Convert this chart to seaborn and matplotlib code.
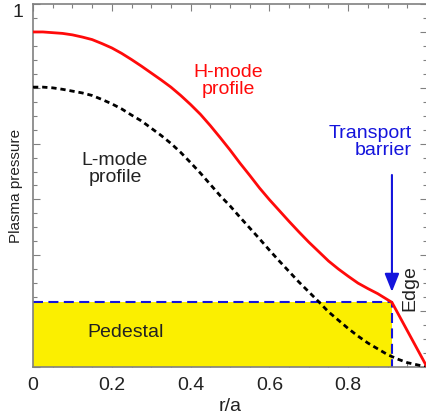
import numpy as np
import pandas as pd
import seaborn as sns
import matplotlib.pyplot as plt
from matplotlib.ticker import MultipleLocator

# profile values (r/a, normalised pressure)
r_h = [0.0, 0.025, 0.05, 0.075, 0.1, 0.125, 0.15, 0.175, 0.2, 0.225,
       0.25, 0.275, 0.3, 0.325, 0.35, 0.375, 0.4, 0.425, 0.45, 0.475,
       0.5, 0.525, 0.55, 0.575, 0.6, 0.625, 0.65, 0.675, 0.7, 0.725,
       0.75, 0.775, 0.8, 0.825, 0.85, 0.875, 0.911, 1.0]
p_h = [0.923, 0.923, 0.921, 0.919, 0.915, 0.909, 0.902, 0.891, 0.879, 0.864,
       0.847, 0.829, 0.810, 0.791, 0.771, 0.748, 0.723, 0.696, 0.665, 0.632,
       0.598, 0.562, 0.528, 0.493, 0.461, 0.431, 0.401, 0.372, 0.344, 0.318,
       0.292, 0.270, 0.250, 0.231, 0.216, 0.202, 0.178, 0.0]
r_l = [0.0, 0.025, 0.05, 0.075, 0.1, 0.125, 0.15, 0.175, 0.2, 0.225,
       0.25, 0.275, 0.3, 0.325, 0.35, 0.375, 0.4, 0.425, 0.45, 0.475,
       0.5, 0.525, 0.55, 0.575, 0.6, 0.625, 0.65, 0.675, 0.7, 0.725,
       0.75, 0.775, 0.8, 0.825, 0.85, 0.875, 0.9, 0.925, 0.95, 0.975, 1.0]
p_l = [0.771, 0.771, 0.769, 0.765, 0.760, 0.755, 0.748, 0.737, 0.725, 0.711,
       0.694, 0.678, 0.658, 0.638, 0.616, 0.591, 0.563, 0.534, 0.503, 0.472,
       0.444, 0.413, 0.383, 0.353, 0.322, 0.292, 0.263, 0.234, 0.207, 0.180,
       0.152, 0.129, 0.106, 0.085, 0.066, 0.050, 0.034, 0.022, 0.012, 0.006,
       0.0]

# pedestal / transport barrier
ped_top = 0.178
barrier_r = 0.911
arrow_start = 0.529
arrow_tip = 0.207

x_ticks = [0, 0.2, 0.4, 0.6, 0.8]
x_tick_labels = ["0", "0.2", "0.4", "0.6", "0.8"]

h_mode = pd.DataFrame({"r": r_h, "p": p_h})
l_mode = pd.DataFrame({"r": r_l, "p": p_l})

sns.set_style("ticks")
plt.rcParams["font.family"] = ["Liberation Sans", "DejaVu Sans"]

red = "#ff0a0a"
blue = "#1414dc"
yellow = "#fbef00"
grey = "#808080"

fig = plt.figure(figsize=(4.27, 4.20), dpi=100)
ax = fig.add_axes([33 / 427, 53 / 420, 394 / 427, 363 / 420])

# pedestal region
ax.fill_between([0, barrier_r], 0, ped_top, color=yellow, lw=0, zorder=1)
ax.plot([0, barrier_r, barrier_r], [ped_top, ped_top, 0], color=blue, lw=1.5,
        dashes=(4.8, 2.6), zorder=2)

# profiles
sns.lineplot(data=l_mode, x="r", y="p", ax=ax, color="black", lw=2.0,
             linestyle=(0, (1.9, 1.4)), zorder=3)
sns.lineplot(data=h_mode, x="r", y="p", ax=ax, color=red, lw=2.0, zorder=4)

# transport barrier arrow
ax.annotate("", xy=(barrier_r, arrow_tip), xytext=(barrier_r, arrow_start),
            arrowprops=dict(arrowstyle="-|>,head_length=0.55,head_width=0.22",
                            mutation_scale=20, color=blue, lw=1.5,
                            shrinkA=0, shrinkB=0), zorder=5)

# labels in the plot
ax.text(0.495, 0.788, "H-mode\nprofile", color=red, fontsize=14,
        ha="center", va="center", linespacing=1.05)
ax.text(0.208, 0.545, "L-mode\nprofile", color="#222222", fontsize=14,
        ha="center", va="center", linespacing=1.05)
ax.text(0.962, 0.62, "Transport\nbarrier", color=blue, fontsize=14,
        ha="right", va="center", linespacing=1.05, multialignment="right")
ax.text(0.236, 0.094, "Pedestal", color="#222222", fontsize=14,
        ha="center", va="center")
ax.text(0.957, 0.218, "Edge", color="#222222", fontsize=14, rotation=90,
        ha="center", va="center")

ax.set_xlim(0, 1)
ax.set_ylim(0, 1)

ax.set_xticks(x_ticks)
ax.set_xticklabels(x_tick_labels)
ax.xaxis.set_minor_locator(MultipleLocator(0.05))

y_major = list(np.arange(0, 0.99, 2 / 13)) + [1.0]
ax.set_yticks(y_major)
ax.set_yticklabels([""] * (len(y_major) - 1) + ["1"])
ax.get_yticklabels()[-1].set_va("top")
ax.yaxis.set_minor_locator(MultipleLocator(1 / 26))

ax.tick_params(which="both", direction="in", top=True, right=True,
               color=grey, width=0.8, labelsize=14, labelcolor="#222222")
ax.tick_params(which="major", length=5, pad=7)
ax.tick_params(which="minor", length=3)

for s in ax.spines.values():
    s.set_color(grey)
    s.set_linewidth(1.2)

ax.set_xlabel("r/a", fontsize=14, color="#222222", labelpad=3)
ax.set_ylabel("Plasma pressure", fontsize=11, color="#222222")
ax.yaxis.set_label_coords(-0.026, 0.5)

fig.savefig("out.png", dpi=100)
